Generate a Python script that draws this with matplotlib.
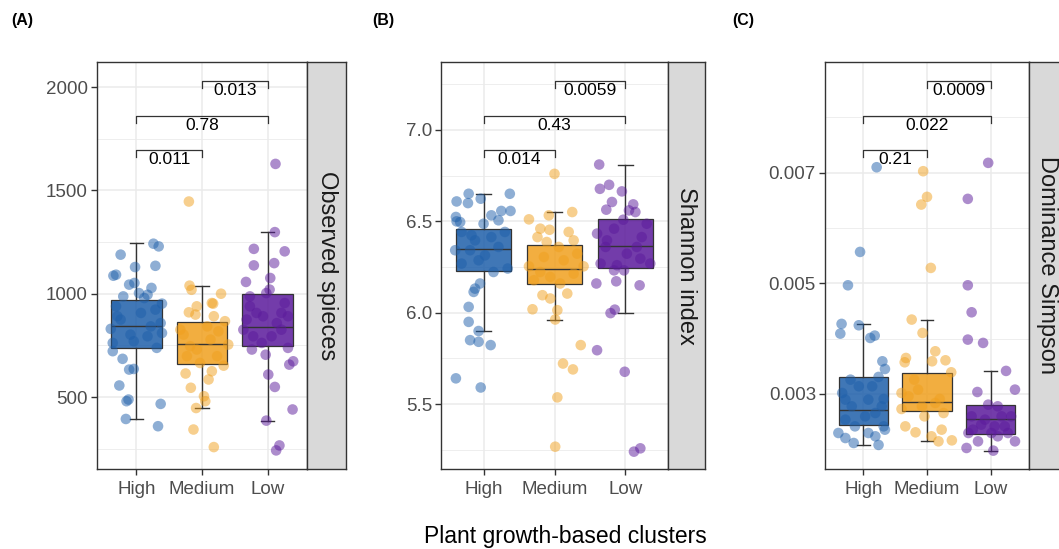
import matplotlib
matplotlib.use("Agg")
import matplotlib.pyplot as plt
import matplotlib.transforms as mtransforms
from matplotlib.colors import to_rgba
from matplotlib.ticker import FixedLocator

plt.rcParams['font.family'] = ['Liberation Sans', 'DejaVu Sans']

# groups and colours
groups = ["High", "Medium", "Low"]
colors = ["#1E5FAA", "#F0A01E", "#5B1A9B"]

# ---- panel A: observed species ----
a_q1 = [736, 659, 745]
a_med = [842, 757, 839]
a_q3 = [968, 863, 1000]
a_lo = [394, 447, 386]
a_hi = [1243, 1037, 1298]
a_pvals = ["0.011", "0.78", "0.013"]

a_high_y = [1242, 1229, 1189, 1135, 1129, 1087, 1092, 1044, 1052, 1028, 987, 995, 1003,
            979, 952, 939, 722, 685, 738, 633, 636, 556, 480, 488, 394, 467, 359,
            830, 810, 858, 891, 802, 794, 907, 923, 762, 770, 842, 875]
a_high_dx = [0.26, 0.34, -0.24, 0.29, -0.02, -0.35, -0.31, -0.11, -0.03, 0.23, -0.2, 0.17, 0.04,
             0.12, 0.39, -0.31, -0.36, -0.21, 0.31, -0.11, -0.04, -0.26, -0.15, -0.12, -0.16, 0.37, 0.33,
             -0.39, 0.39, 0.37, -0.29, -0.09, 0.17, 0.07, 0.29, -0.36, -0.04, 0.22, -0.24]
a_med_y = [1446, 1039, 1019, 1000, 939, 952, 955, 910, 899, 867, 891, 802, 754, 652, 614, 625,
           585, 545, 504, 480, 447, 343, 258, 826, 842, 730, 698, 698, 665, 778, 746, 818]
a_med_dx = [-0.2, -0.19, -0.16, 0.29, -0.08, 0.17, 0.15, -0.2, -0.1, 0.35, 0.18, -0.28, 0.4, 0.33,
            -0.25, 0.15, 0.1, -0.17, 0.03, 0.05, -0.09, -0.13, 0.18, -0.33, 0.08, -0.08, 0.23, -0.23,
            -0.03, 0.13, -0.18, 0.25]
a_low_y = [1628, 1298, 1205, 1217, 1137, 1148, 1076, 1057, 1020, 1003, 987, 907, 891, 826, 730,
           738, 705, 673, 657, 609, 549, 440, 386, 266, 242, 939, 891, 858, 794, 794, 907, 826,
           762, 875, 955]
a_low_dx = [0.12, 0.11, 0.26, -0.21, -0.21, 0.1, 0.04, -0.33, 0.03, -0.02, -0.27, 0.21, 0.31, -0.37,
            -0.24, 0.31, -0.03, 0.39, 0.33, 0.01, 0.11, 0.38, -0.02, 0.18, 0.13, -0.27, -0.07, 0.14,
            -0.22, 0.06, -0.17, 0.21, -0.09, -0.32, 0.26]

# ---- panel B: Shannon index ----
b_q1 = [6.228, 6.155, 6.246]
b_med = [6.351, 6.242, 6.367]
b_q3 = [6.456, 6.369, 6.511]
b_lo = [5.900, 5.963, 5.998]
b_hi = [6.651, 6.551, 6.811]
b_pvals = ["0.014", "0.43", "0.0059"]

b_high_y = [6.651, 6.609, 6.600, 6.624, 6.651, 6.524, 6.500, 6.496, 6.533, 6.557, 6.557, 6.506,
            6.487, 6.424, 6.442, 6.442, 6.396, 6.414, 6.342, 6.360, 6.269, 6.287, 6.242, 6.223,
            6.342, 6.314, 6.132, 6.114, 6.160, 6.032, 5.950, 5.900, 5.850, 5.841, 5.823, 5.641, 5.591]
b_high_dx = [-0.21, -0.38, -0.22, -0.04, 0.37, -0.39, -0.38, -0.33, 0.11, 0.25, 0.38, 0.21, 0.0,
             -0.17, -0.31, 0.3, -0.12, 0.11, -0.4, 0.21, -0.31, -0.07, 0.34, 0.14, -0.19, 0.02,
             -0.12, -0.14, -0.05, -0.21, -0.21, -0.07, -0.19, -0.07, 0.1, -0.39, -0.04]
b_med_y = [6.760, 6.551, 6.511, 6.533, 6.460, 6.454, 6.442, 6.414, 6.387, 6.396, 6.360, 6.323,
           6.254, 6.254, 6.223, 6.287, 6.196, 6.214, 6.105, 6.096, 6.078, 6.019, 6.014, 5.963,
           5.823, 5.722, 5.690, 5.537, 5.267, 6.178, 6.160, 6.305]
b_med_dx = [0.0, 0.25, -0.36, -0.08, -0.2, -0.07, 0.2, -0.24, -0.11, 0.27, 0.06, 0.32, -0.36, 0.41,
            -0.2, 0.13, -0.06, 0.27, 0.18, -0.17, -0.06, -0.31, 0.04, 0.01, 0.37, 0.12, 0.26, 0.04,
            0.01, -0.29, 0.08, -0.15]
b_low_y = [6.811, 6.700, 6.678, 6.664, 6.606, 6.593, 6.564, 6.560, 6.551, 6.487, 6.509, 6.433,
           6.460, 6.414, 6.360, 6.323, 6.296, 6.269, 6.260, 6.269, 6.232, 6.232, 6.160, 6.172,
           6.150, 5.998, 6.017, 5.795, 5.677, 5.240, 5.258, 6.360, 6.396]
b_low_dx = [-0.37, -0.23, -0.36, -0.05, -0.19, 0.11, -0.27, 0.05, 0.14, 0.3, -0.03, -0.4, -0.16,
            0.23, -0.28, 0.02, 0.21, -0.35, -0.12, 0.35, -0.16, -0.02, -0.41, -0.13, 0.2, -0.21,
            -0.15, -0.4, -0.01, 0.12, 0.21, 0.16, -0.26]

# ---- panel C: dominance Simpson ----
c_q1 = [0.002432, 0.002698, 0.002270]
c_med = [0.002703, 0.002861, 0.002541]
c_q3 = [0.003313, 0.003385, 0.002794]
c_lo = [0.002078, 0.002143, 0.001975]
c_hi = [0.004266, 0.004344, 0.003416]
c_pvals = ["0.21", "0.022", "0.0009"]

c_high_y = [0.007098, 0.005567, 0.004964, 0.004266, 0.004241, 0.004090, 0.004054, 0.004012,
            0.003590, 0.003451, 0.003307, 0.003017, 0.002909, 0.002776, 0.002535, 0.002414,
            0.002294, 0.002203, 0.002113, 0.002078, 0.002294, 0.002234, 0.002354, 0.003138,
            0.002897, 0.002655, 0.003258, 0.002595, 0.002414, 0.003138, 0.002897, 0.002776]
c_high_dx = [0.21, -0.05, -0.24, -0.34, -0.07, -0.36, 0.18, 0.11, 0.3, 0.34, 0.24, -0.33, 0.32,
             -0.18, -0.28, 0.32, -0.39, -0.28, -0.15, 0.24, 0.08, 0.19, 0.34, -0.07, 0.08, 0.19,
             -0.2, 0.03, -0.13, 0.14, -0.28, 0.29]
c_med_y = [0.007026, 0.006562, 0.006423, 0.005278, 0.004344, 0.004102, 0.003771, 0.003650,
           0.003572, 0.003608, 0.003590, 0.003391, 0.003258, 0.002728, 0.002909, 0.002776,
           0.002414, 0.002306, 0.002354, 0.002234, 0.002143, 0.002161, 0.002595, 0.002957,
           0.002836, 0.003078, 0.002655, 0.003017]
c_med_dx = [-0.06, 0.0, -0.09, 0.06, -0.24, -0.07, 0.13, -0.33, -0.35, 0.29, 0.08, 0.38, -0.2,
            -0.4, 0.2, -0.08, -0.34, -0.18, 0.23, 0.07, 0.18, 0.39, -0.04, -0.29, 0.13, -0.14,
            0.26, -0.4]
c_low_y = [0.007177, 0.006526, 0.004964, 0.004476, 0.003982, 0.003922, 0.003416, 0.003078,
           0.003035, 0.002806, 0.002776, 0.002595, 0.002595, 0.002444, 0.002414, 0.002294,
           0.002294, 0.002143, 0.002143, 0.002023, 0.001975, 0.002234, 0.002535, 0.002294,
           0.002354, 0.002414, 0.002595]
c_low_dx = [-0.04, -0.36, -0.36, -0.3, -0.36, -0.12, 0.24, 0.38, -0.21, -0.04, 0.11, -0.3, 0.32,
            -0.15, 0.22, -0.35, 0.01, 0.38, -0.2, -0.38, 0.04, 0.11, -0.09, 0.27, -0.28, 0.06, 0.17]

W, H = 1059, 549
fig = plt.figure(figsize=(W / 100, H / 100), dpi=100)
fig.patch.set_facecolor("white")

# panel top / bottom in pixels
top, bottom = 62, 469


def px_axes(x0, x1):
    return fig.add_axes([x0 / W, (H - bottom) / H, (x1 - x0) / W, (bottom - top) / H])


def draw_panel(x0, x1, xs, q1, med, q3, lo, hi, pts_y, pts_dx, ylim, major, minor, fmt,
               pvals, label, tag, tag_x):
    ax = px_axes(x0, x1)
    sax = px_axes(x1, xs)

    stats = []
    for i in range(3):
        stats.append(dict(q1=q1[i], med=med[i], q3=q3[i], whislo=lo[i], whishi=hi[i], fliers=[]))
    bp = ax.bxp(stats, positions=[1, 2, 3], widths=0.77, patch_artist=True, showfliers=False,
                capwidths=0.2,
                boxprops=dict(linewidth=0.9, edgecolor="#333333"),
                whiskerprops=dict(linewidth=1, color="#333333"),
                capprops=dict(linewidth=1, color="#333333"),
                medianprops=dict(linewidth=1, color="#333333"))
    for i, box in enumerate(bp["boxes"]):
        box.set_facecolor(to_rgba(colors[i], 0.85))
        box.set_zorder(2)

    for i in range(3):
        xs_pts = [i + 1 + d for d in pts_dx[i]]
        ax.scatter(xs_pts, pts_y[i], s=58, color=colors[i], alpha=0.5,
                   edgecolors="none", zorder=3)

    # axes, ticks, grid
    ax.set_xlim(0.4, 3.6)
    ax.set_ylim(*ylim)
    ax.yaxis.set_major_locator(FixedLocator(major))
    ax.yaxis.set_minor_locator(FixedLocator(minor))
    ax.set_xticks([1, 2, 3])
    ax.set_xticklabels(groups)
    ax.yaxis.set_major_formatter(plt.FuncFormatter(lambda v, p: fmt % v))
    ax.grid(which="major", color="#EBEBEB", lw=1.1, zorder=0)
    ax.grid(which="minor", axis="y", color="#EBEBEB", lw=0.6, zorder=0)
    ax.set_axisbelow(True)
    ax.tick_params(which="major", length=4.5, width=1, color="#333333",
                   labelcolor="#4D4D4D", labelsize=13.5, pad=2)
    ax.tick_params(axis="x", which="major", pad=4)
    ax.tick_params(which="minor", length=0)
    for s in ax.spines.values():
        s.set_color("#333333")
        s.set_linewidth(1)

    # significance brackets
    trans = mtransforms.blended_transform_factory(ax.transData, ax.transAxes)
    pairs = [(1, 2), (1, 3), (2, 3)]
    levels = [0.784, 0.868, 0.954]
    drop = 0.017
    for (g1, g2), lv, p in zip(pairs, levels, pvals):
        ax.plot([g1, g1, g2, g2], [lv - drop, lv, lv, lv - drop], transform=trans,
                color="#333333", lw=0.9, clip_on=False, zorder=4)
        ax.text((g1 + g2) / 2, lv - 0.006, p, transform=trans, ha="center", va="top",
                fontsize=12.5, color="black", zorder=5)

    # strip
    sax.set_facecolor("#D9D9D9")
    sax.set_xticks([])
    sax.set_yticks([])
    for s in sax.spines.values():
        s.set_color("#333333")
        s.set_linewidth(1)
    sax.text(0.5, 0.5, label, transform=sax.transAxes, rotation=-90, ha="center",
             va="center", fontsize=17, color="#1A1A1A")

    fig.text(tag_x / W, 1 - 21 / H, tag, ha="left", va="center", fontsize=11.5,
             fontweight="bold")
    return ax


draw_panel(97, 307, 346, a_q1, a_med, a_q3, a_lo, a_hi,
           [a_high_y, a_med_y, a_low_y], [a_high_dx, a_med_dx, a_low_dx],
           (152, 2121), [500, 1000, 1500, 2000], [250, 750, 1250, 1750], "%d",
           a_pvals, "Observed spieces", "(A)", 11)
draw_panel(441, 668, 705, b_q1, b_med, b_q3, b_lo, b_hi,
           [b_high_y, b_med_y, b_low_y], [b_high_dx, b_med_dx, b_low_dx],
           (5.145, 7.372), [5.5, 6.0, 6.5, 7.0], [5.25, 5.75, 6.25, 6.75, 7.25], "%.1f",
           b_pvals, "Shannon index", "(B)", 372)
draw_panel(825, 1029, 1066, c_q1, c_med, c_q3, c_lo, c_hi,
           [c_high_y, c_med_y, c_low_y], [c_high_dx, c_med_dx, c_low_dx],
           (0.001643, 0.009), [0.003, 0.005, 0.007], [0.002, 0.004, 0.006, 0.008], "%.3f",
           c_pvals, "Dominance Simpson", "(C)", 732)

fig.text(565 / W, 1 - 537 / H, "Plant growth-based clusters", ha="center", va="center",
         fontsize=16.5, color="black")

fig.savefig("out.png", dpi=100)
